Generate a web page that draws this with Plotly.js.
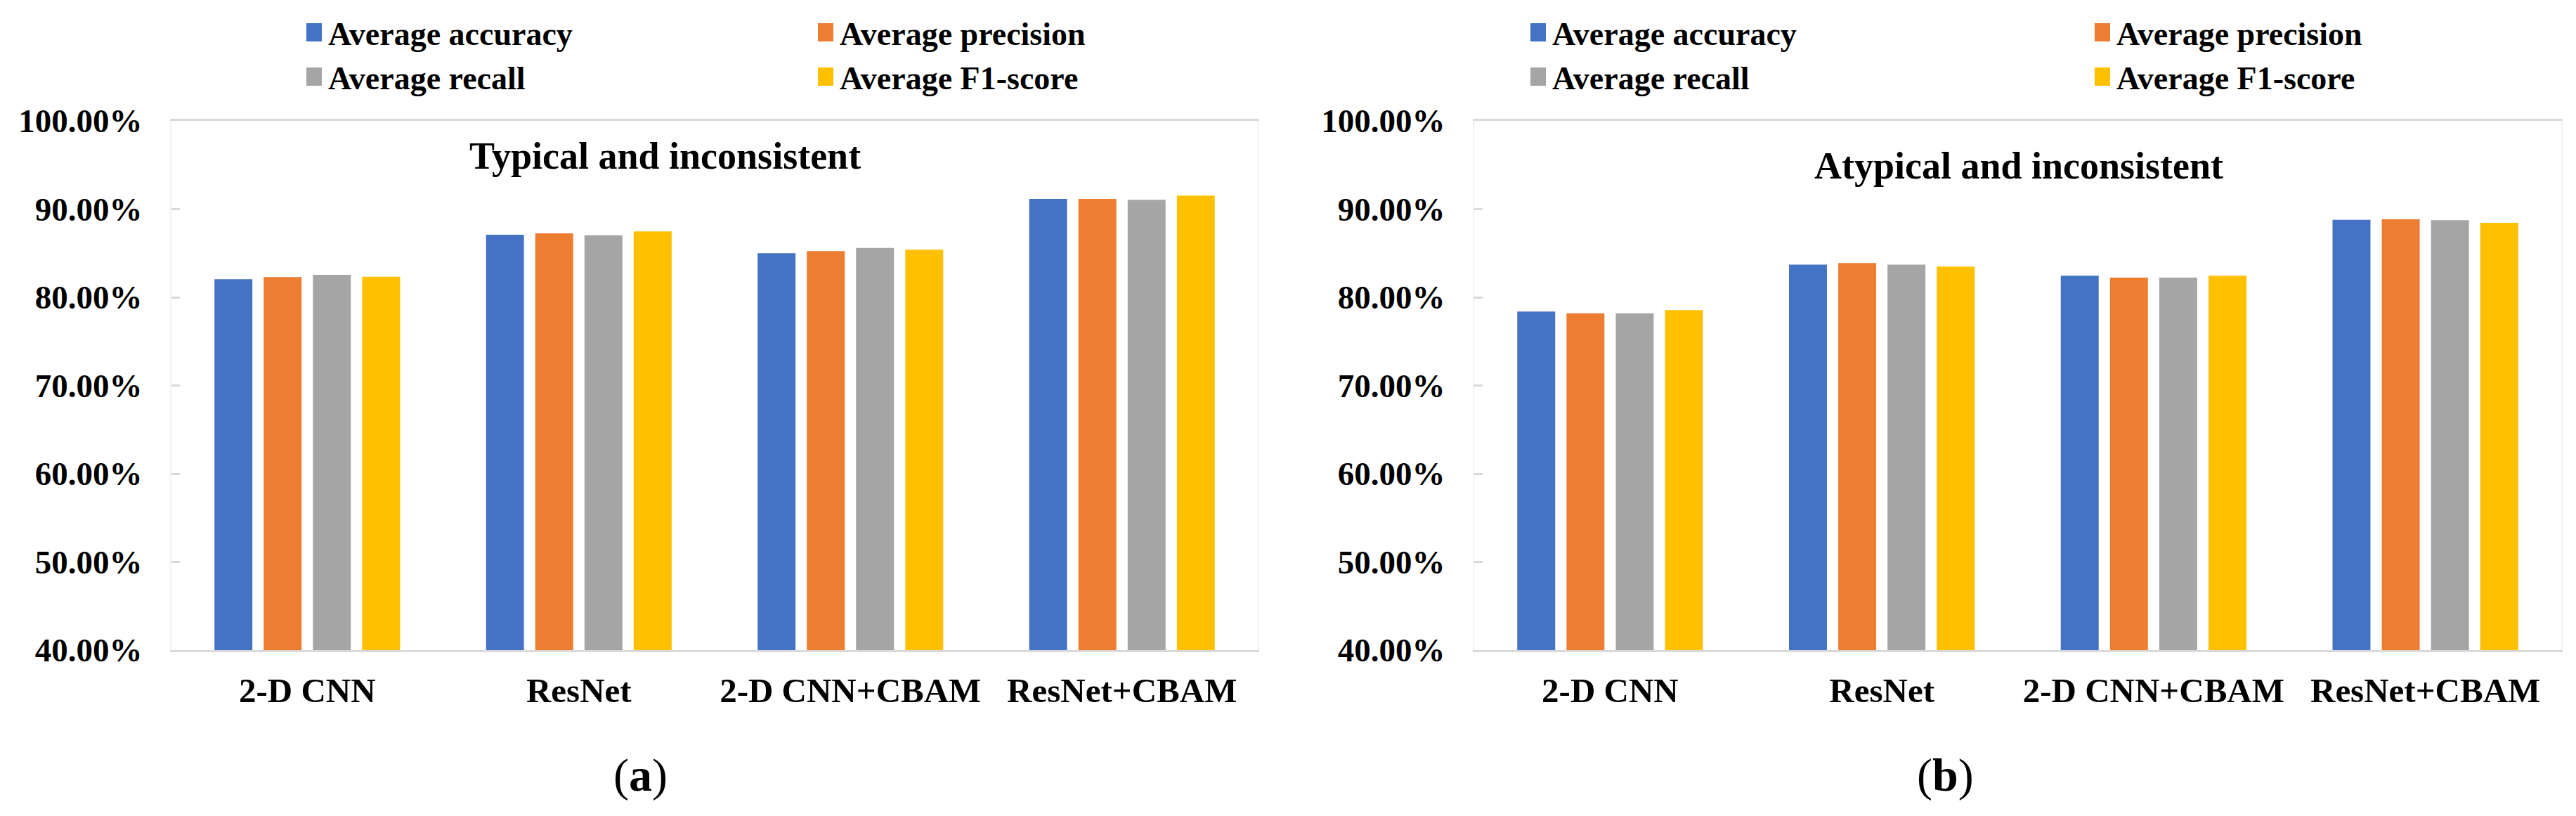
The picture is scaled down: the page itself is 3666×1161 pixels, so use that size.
<!DOCTYPE html>
<html>
<head>
<meta charset="utf-8">
<script src="https://cdn.plot.ly/plotly-3.0.1.min.js"></script>
<style>
  html, body { margin: 0; padding: 0; background: #ffffff; }
  #chart { width: 3666px; height: 1161px; }
</style>
</head>
<body>
<div id="chart"></div>
<script>
// ---- data ----
const categories = ['2-D CNN', 'ResNet', '2-D CNN+CBAM', 'ResNet+CBAM'];
const seriesNames = ['Average accuracy', 'Average precision', 'Average recall', 'Average F1-score'];

// (a) Typical and inconsistent (%)
const typicalAccuracy  = [82.05, 87.09, 85.00, 91.16];
const typicalPrecision = [82.29, 87.25, 85.23, 91.16];
const typicalRecall    = [82.55, 87.04, 85.60, 91.05];
const typicalF1        = [82.34, 87.47, 85.39, 91.53];

// (b) Atypical and inconsistent (%)
const atypicalAccuracy  = [78.38, 83.71, 82.45, 88.79];
const atypicalPrecision = [78.19, 83.89, 82.24, 88.84];
const atypicalRecall    = [78.19, 83.71, 82.24, 88.74];
const atypicalF1        = [78.54, 83.49, 82.45, 88.44];

const yTickValues = [40, 50, 60, 70, 80, 90, 100];
const yTickLabels = ['40.00%', '50.00%', '60.00%', '70.00%', '80.00%', '90.00%', '100.00%'];
const panelTitles = ['Typical and inconsistent', 'Atypical and inconsistent'];
const panelLabels = ['a', 'b'];

// ---- styling ----
const colors = ['#4472C4', '#ED7D31', '#A5A5A5', '#FFC000'];
const FONT = "'Liberation Serif', 'Times New Roman', serif";
const W = 3666, H = 1161;
const px = v => v / W;
const py = v => 1 - v / H;

const typical = [typicalAccuracy, typicalPrecision, typicalRecall, typicalF1];
const atypical = [atypicalAccuracy, atypicalPrecision, atypicalRecall, atypicalF1];

const legendKey = k => 'legend' + (k === 0 ? '' : (k + 1));

const traces = [];
[typical, atypical].forEach((panel, p) => {
  panel.forEach((vals, i) => {
    traces.push({
      type: 'bar',
      x: categories,
      y: vals,
      name: seriesNames[i],
      xaxis: p === 0 ? 'x' : 'x2',
      yaxis: p === 0 ? 'y' : 'y2',
      marker: { color: colors[i], line: { width: 0 } },
      legend: legendKey(p * 4 + i),
      showlegend: true,
      hoverinfo: 'x+y+name'
    });
  });
});

// legend positions: [text start x, row center y]
const legendPos = [
  [467, 46], [1195, 46], [467, 109], [1195, 109],
  [2209, 46], [3012, 46], [2209, 109], [3012, 109]
];

const layout = {
  width: W, height: H,
  margin: { l: 0, r: 0, t: 0, b: 0, pad: 0 },
  paper_bgcolor: '#ffffff',
  plot_bgcolor: '#ffffff',
  showlegend: true,
  font: { family: FONT, size: 44, color: '#000000', weight: 'bold' },
  barmode: 'group',
  bargap: 0.275,
  bargroupgap: 0.23,
  annotations: [],
  shapes: []
};

legendPos.forEach((pos, k) => {
  layout[legendKey(k)] = {
    x: px(pos[0] - 40), xanchor: 'left',
    y: py(pos[1]), yanchor: 'middle',
    orientation: 'v',
    bgcolor: 'rgba(0,0,0,0)',
    borderwidth: 0,
    visible: true,
    font: { family: FONT, size: 46, color: '#000000', weight: 'bold' },
    itemclick: false, itemdoubleclick: false
  };
});

const xDomains = [[px(244), px(1790)], [px(2098), px(3645)]];
const yDomain = [py(925), py(172)];

['xaxis', 'xaxis2'].forEach((k, p) => {
  layout[k] = {
    domain: xDomains[p],
    anchor: p === 0 ? 'y' : 'y2',
    type: 'category',
    showline: true, linecolor: '#d9d9d9', linewidth: 3,
    mirror: true,
    showgrid: false, zeroline: false,
    ticks: '',
    ticklabelstandoff: 12,
    tickfont: { family: FONT, size: 49, color: '#000000', weight: 'bold' }
  };
});
['yaxis', 'yaxis2'].forEach((k, p) => {
  layout[k] = {
    domain: yDomain,
    anchor: p === 0 ? 'x' : 'x2',
    range: [40, 100],
    tickmode: 'array',
    tickvals: yTickValues,
    ticktext: yTickLabels,
    showgrid: false, zeroline: false,
    showline: true, linecolor: '#f2f2f2', linewidth: 2, mirror: true,
    ticks: 'inside', ticklen: 12, tickwidth: 3, tickcolor: '#d9d9d9',
    ticklabelstandoff: 30,
    tickfont: { family: FONT, size: 47, color: '#000000', weight: 'bold' }
  };
});

// panel titles inside plot areas
layout.annotations.push({
  xref: 'paper', yref: 'paper', x: px(946), y: py(222),
  xanchor: 'center', yanchor: 'middle', showarrow: false,
  text: panelTitles[0],
  font: { family: FONT, size: 54, color: '#000000', weight: 'bold' }
});
layout.annotations.push({
  xref: 'paper', yref: 'paper', x: px(2873), y: py(236),
  xanchor: 'center', yanchor: 'middle', showarrow: false,
  text: panelTitles[1],
  font: { family: FONT, size: 54, color: '#000000', weight: 'bold' }
});
// (a) / (b)
[[911, panelLabels[0]], [2768, panelLabels[1]]].forEach(([x, l]) => {
  layout.annotations.push({
    xref: 'paper', yref: 'paper', x: px(x), y: py(1103),
    xanchor: 'center', yanchor: 'middle', showarrow: false,
    text: '(<b>' + l + '</b>)',
    font: { family: FONT, size: 66, color: '#000000', weight: 'normal' }
  });
});

Plotly.newPlot('chart', traces, layout, { staticPlot: true, displayModeBar: false }).then(gd => {
  // enlarge the legend colour keys (all legends) to match the reference's larger swatches
  gd.querySelectorAll('.legendpoints path').forEach(p => {
    p.setAttribute('d', 'M11,13H-11V-13H11Z');
  });
});
</script>
</body>
</html>
